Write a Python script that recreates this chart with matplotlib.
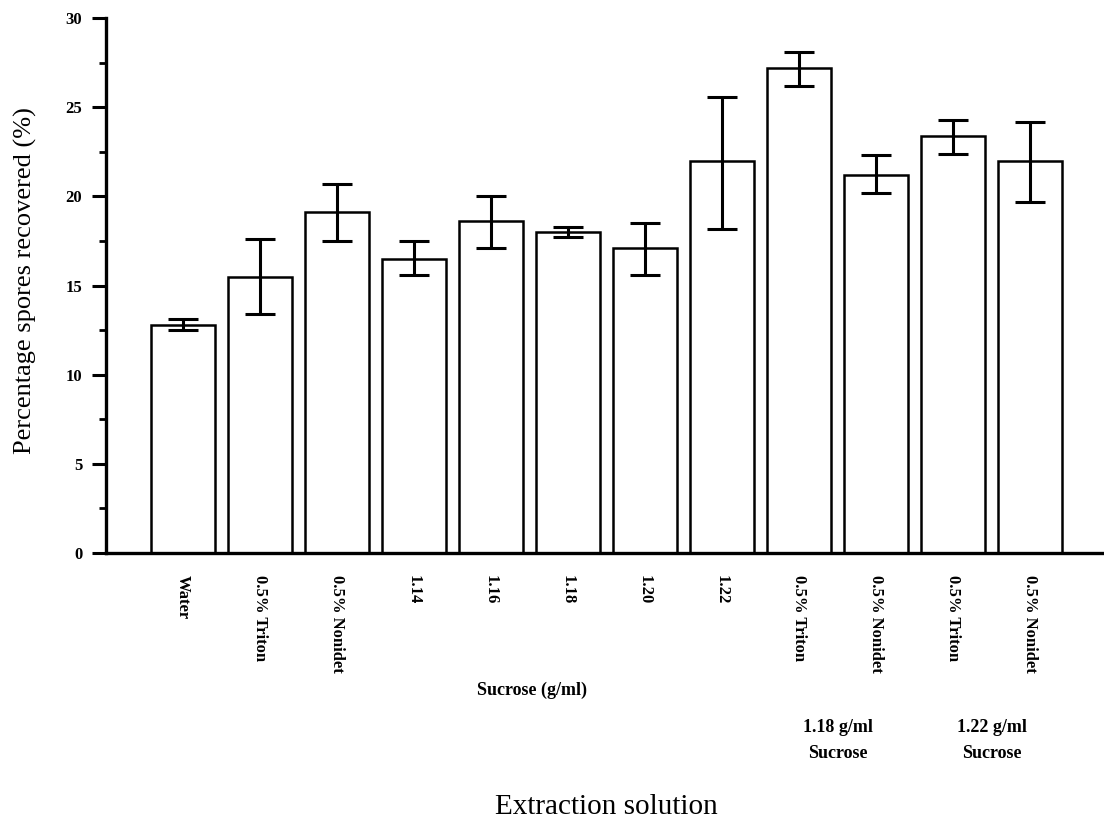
import matplotlib
matplotlib.use("Agg")
import matplotlib.pyplot as plt
import numpy as np
from matplotlib.ticker import MultipleLocator

# extraction solutions, mean % spores recovered and error bar ends
solutions = ["Water", "0.5% Triton", "0.5% Nonidet", "1.14", "1.16", "1.18",
             "1.20", "1.22", "0.5% Triton", "0.5% Nonidet", "0.5% Triton",
             "0.5% Nonidet"]
recovered = [12.8, 15.5, 19.1, 16.5, 18.6, 18.0, 17.1, 22.0, 27.2, 21.2, 23.4, 22.0]
err_low = [12.5, 13.4, 17.5, 15.6, 17.1, 17.7, 15.6, 18.2, 26.2, 20.2, 22.4, 19.7]
err_high = [13.1, 17.6, 20.7, 17.5, 20.0, 18.3, 18.5, 25.6, 28.1, 22.3, 24.3, 24.2]

plt.rcParams["font.family"] = ["Liberation Serif", "DejaVu Serif"]

fig = plt.figure(figsize=(11.04, 8.23), dpi=100)
ax = fig.add_axes([0.096, 0.328, 0.904, 0.65])

x = np.arange(len(solutions))
vals = np.array(recovered)
yerr = [vals - np.array(err_low), np.array(err_high) - vals]

ax.bar(x, vals, width=0.82, facecolor="white", edgecolor="black", linewidth=1.8, zorder=2)
ax.errorbar(x, vals, yerr=yerr, fmt="none", ecolor="black", elinewidth=2.2,
            capsize=11, capthick=2.2, zorder=3)

ax.set_xlim(-1.0, 11.96)
ax.set_ylim(0, 30)
ax.yaxis.set_major_locator(MultipleLocator(5))
ax.yaxis.set_minor_locator(MultipleLocator(2.5))

for side in ["top", "right"]:
    ax.spines[side].set_visible(False)
ax.spines["left"].set_linewidth(2.4)
ax.spines["bottom"].set_linewidth(2.4)

ax.tick_params(axis="y", which="major", direction="out", length=10, width=2.2,
               labelsize=12, pad=7)
ax.tick_params(axis="y", which="minor", direction="out", length=5, width=2.0)
for lab in ax.get_yticklabels():
    lab.set_fontweight("bold")

ax.set_xticks(x)
ax.set_xticklabels(solutions, rotation=270, fontsize=12, fontweight="bold",
                   va="top", ha="center")
ax.tick_params(axis="x", length=0, pad=16)

ax.set_ylabel("Percentage spores recovered (%)", fontsize=19)
ax.yaxis.set_label_coords(-0.069, 0.51)

tr = ax.get_xaxis_transform()
group_kw = dict(transform=tr, ha="center", va="center", fontsize=13, fontweight="bold")
ax.text(4.53, -0.256, "Sucrose (g/ml)", **group_kw)
ax.text(8.5, -0.327, "1.18 g/ml", **group_kw)
ax.text(8.5, -0.375, "Sucrose", **group_kw)
ax.text(10.5, -0.327, "1.22 g/ml", **group_kw)
ax.text(10.5, -0.375, "Sucrose", **group_kw)
ax.text(5.5, -0.475, "Extraction solution", transform=tr, ha="center",
        va="center", fontsize=21)

fig.savefig("out.png", dpi=100)
